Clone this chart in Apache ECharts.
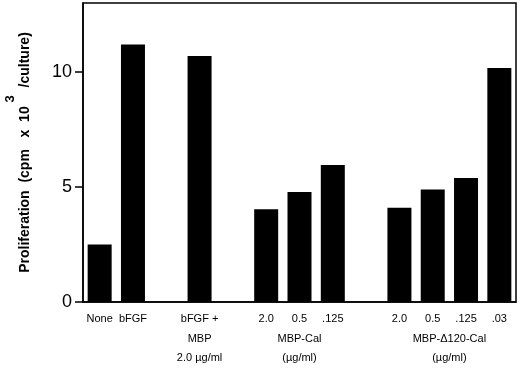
<!DOCTYPE html>
<html>
<head>
<meta charset="utf-8">
<script src="https://cdn.jsdelivr.net/npm/echarts@6/dist/echarts.min.js"></script>
<style>
  html, body { margin: 0; padding: 0; background: #fff; }
  #main { width: 520px; height: 368px; }
</style>
</head>
<body>
<div id="main"></div>
<script>
// 13 slots on the x axis, empty ones are gaps between groups
var categories = ["None", "bFGF", "gap1", "bFGF+MBP", "gap2", "cal2.0", "cal0.5", "cal.125",
  "gap3", "d2.0", "d0.5", "d.125", "d.03"];
var tickLabels = ["None", "bFGF", "", "bFGF +", "", "2.0", "0.5", ".125", "", "2.0", "0.5", ".125", ".03"];
var proliferation = [2.5, 11.2, null, 10.7, null, 4.03, 4.78, 5.96, null, 4.1, 4.89, 5.39, 10.17];
var yTicks = [0, 5, 10];
// group captions under the tick labels: lines + first/last slot index
var groupLabels = [
  { lines: ["MBP", "2.0 \u00b5g/ml"], from: 3, to: 3 },
  { lines: ["MBP-Cal", "(\u00b5g/ml)"], from: 5, to: 7 },
  { lines: ["MBP-\u0394120-Cal", "(\u00b5g/ml)"], from: 9, to: 12 }
];

var FONT = "Liberation Sans, Arial, Helvetica, sans-serif";
var chart = echarts.init(document.getElementById("main"));

var option = {
  animation: false,
  grid: {
    left: 83,
    right: 4,
    top: 3,
    bottom: 66,
    outerBoundsMode: "none",
    containLabel: false,
    show: true,
    borderColor: "#000",
    borderWidth: 1.5
  },
  xAxis: {
    type: "category",
    data: categories,
    axisLine: { lineStyle: { color: "#000", width: 1.5 } },
    axisTick: { alignWithLabel: true, length: 5, lineStyle: { color: "#000", width: 1.5 } },
    axisLabel: {
      interval: 0,
      margin: 11,
      color: "#000",
      fontFamily: FONT,
      fontSize: 11,
      formatter: function (value, idx) {
        return tickLabels[idx];
      }
    },
    splitLine: { show: false }
  },
  yAxis: {
    type: "value",
    min: 0,
    max: 13,
    interval: 5,
    name: "{a|Proliferation  (cpm   x  10 }{sup|3}{a|  /culture)}",
    nameLocation: "middle",
    nameGap: 51,
    nameTextStyle: {
      rich: {
        a: { fontFamily: FONT, fontSize: 14, fontWeight: "bold", color: "#000", lineHeight: 28, verticalAlign: "bottom" },
        sup: { fontFamily: FONT, fontSize: 13, fontWeight: "bold", color: "#000", lineHeight: 28, verticalAlign: "top" }
      }
    },
    axisLine: { show: true, lineStyle: { color: "#000", width: 1.5 } },
    axisTick: { show: true, length: 8, lineStyle: { color: "#000", width: 1.5 } },
    axisLabel: {
      margin: 11,
      color: "#000",
      fontFamily: FONT,
      fontSize: 18,
      showMaxLabel: false,
      formatter: function (v) {
        return yTicks.indexOf(v) >= 0 ? String(v) : "";
      }
    },
    splitLine: { show: false }
  },
  series: [
    {
      type: "bar",
      data: proliferation,
      barWidth: 24,
      itemStyle: { color: "#000" }
    }
  ]
};

chart.setOption(option);

// place group captions under their slots
var baseY = chart.convertToPixel({ yAxisIndex: 0 }, 0);
var texts = [];
groupLabels.forEach(function (g) {
  var x = (chart.convertToPixel({ xAxisIndex: 0 }, g.from) + chart.convertToPixel({ xAxisIndex: 0 }, g.to)) / 2;
  g.lines.forEach(function (line, i) {
    texts.push({
      type: "text",
      x: x,
      y: baseY + 31 + i * 19,
      style: {
        text: line,
        fill: "#000",
        font: "11px " + FONT,
        textAlign: "center",
        textVerticalAlign: "top"
      }
    });
  });
});
chart.setOption({ graphic: texts });
</script>
</body>
</html>
